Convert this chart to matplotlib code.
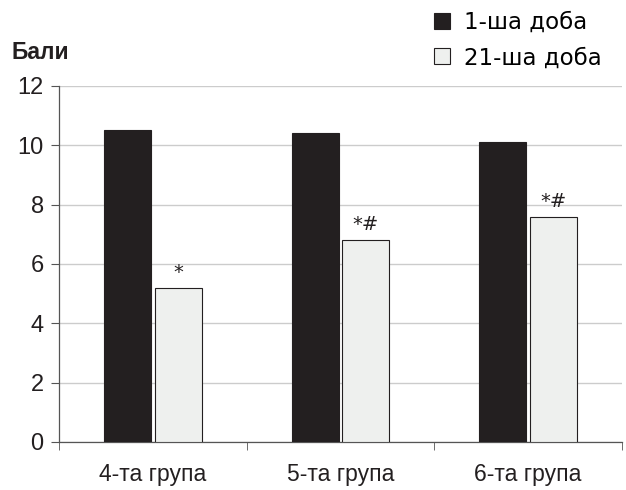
import matplotlib.pyplot as plt
import numpy as np

groups = ['4-та група', '5-та група', '6-та група']
day1 = [10.5, 10.4, 10.1]
day21 = [5.2, 6.8, 7.6]
marks = ['*', '*#', '*#']
series_names = ['1-ша доба', '21-ша доба']

plt.rcParams['font.family'] = ['Liberation Sans', 'DejaVu Sans']

fig = plt.figure(figsize=(6.26, 4.9), dpi=100)
ax = fig.add_axes([0.0942, 0.098, 0.8994, 0.7265])

x = np.arange(len(groups))
w = 0.25
off = 0.135
b1 = ax.bar(x - off, day1, w, color='#231f20', edgecolor='#231f20', linewidth=0.8,
            label=series_names[0], zorder=3)
b2 = ax.bar(x + off, day21, w, color='#eef0ee', edgecolor='#231f20', linewidth=0.8,
            label=series_names[1], zorder=3)

for xi, v, m in zip(x, day21, marks):
    ax.text(xi + off, v + 0.2, m, ha='center', va='bottom', fontsize=14,
            family='DejaVu Sans', color='#231f20')

ax.set_xlim(-0.5, 2.5)
ax.set_ylim(0, 12)
ax.set_yticks(range(0, 13, 2))
ax.yaxis.grid(True, color='#cccccc', linewidth=1, zorder=0)
ax.set_axisbelow(True)

ax.set_xticks(x)
ax.set_xticklabels(groups, fontsize=16.5)
ax.tick_params(axis='x', length=0, pad=15, colors='#231f20')
ax.set_xticks([-0.5, 0.5, 1.5, 2.5], minor=True)
ax.tick_params(axis='x', which='minor', length=6, direction='out', color='#555555')
ax.tick_params(axis='y', length=6, direction='out', labelsize=17, color='#555555',
               labelcolor='#231f20', pad=5)

for s in ['top', 'right']:
    ax.spines[s].set_visible(False)
for s in ['left', 'bottom']:
    ax.spines[s].set_color('#555555')
    ax.spines[s].set_linewidth(0.9)

fig.text(0.019, 0.893, 'Бали', fontsize=16.5, fontweight='bold',
         color='#231f20', va='center')

leg = fig.legend(handles=[b1, b2], loc='upper left', bbox_to_anchor=(0.66, 1.02),
                 frameon=False, handlelength=0.7, handleheight=0.7,
                 handletextpad=0.6, labelspacing=0.55,
                 prop={'family': 'DejaVu Sans', 'size': 16.5})

fig.savefig('out.png', dpi=100)
